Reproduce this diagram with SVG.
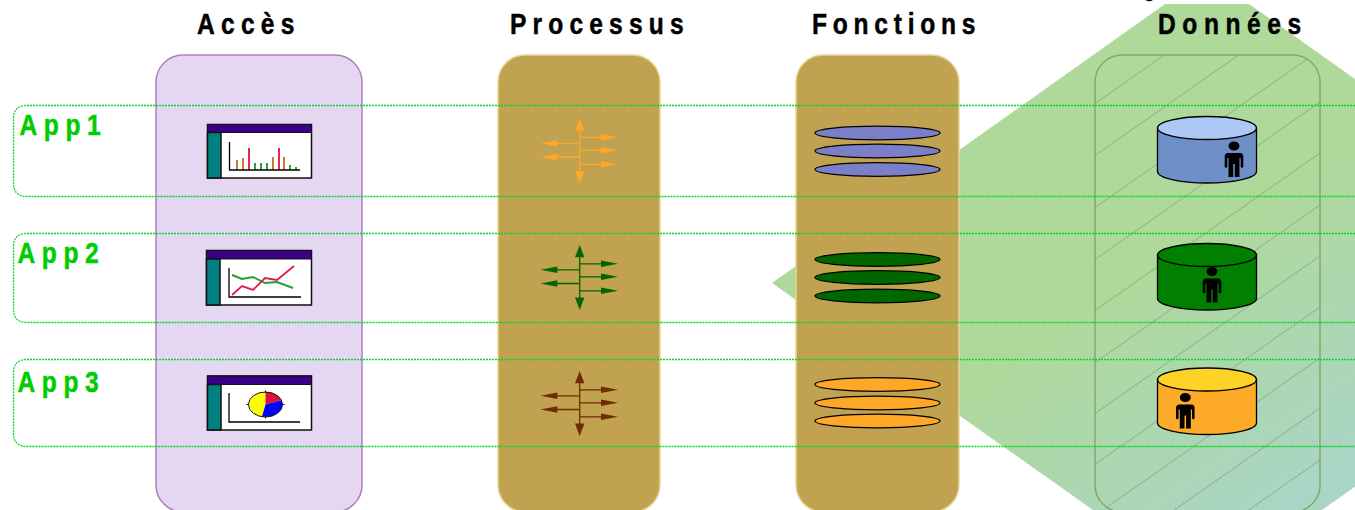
<svg xmlns="http://www.w3.org/2000/svg" xmlns:xlink="http://www.w3.org/1999/xlink" width="1355" height="510" viewBox="0 0 1355 510">
<style>
text{font-family:"Liberation Sans",Arial,sans-serif;font-weight:700;font-size:30px;letter-spacing:8px;stroke-width:.5px}
.title{fill:#000;stroke:#000}
.app{fill:#00CC00;stroke:#00CC00}
.band{fill:none;stroke:#00DC20;stroke-width:1.3;stroke-dasharray:2 1}
.panel{stroke-width:1.5}
.brown{fill:#C1A251;stroke:#E8D89A}
.win{fill:#fff;stroke:#111;stroke-width:1.5}
.bar{fill:#3A0088;stroke:#111;stroke-width:1}
.side{fill:#008080;stroke:#111;stroke-width:1.5}
.axis{fill:none;stroke:#000;stroke-width:1.3}
.disk{stroke:#000;stroke-width:1.2}
.cyl{stroke:#000;stroke-width:1.3}
.hatch{stroke:#7F9D72;stroke-width:.7}
.or{stroke:#C07830;stroke-width:1.9}
.re{stroke:#E02050;stroke-width:1.9}
.gr{stroke:#20A030;stroke-width:1.9}
</style>
<defs>
<linearGradient id="bg" gradientUnits="userSpaceOnUse" x1="980" y1="370" x2="1130" y2="600">
<stop offset="0" stop-color="#AFD99A"/><stop offset="1" stop-color="#A9D5C4"/>
</linearGradient>
<clipPath id="dclip"><rect x="1095" y="55" width="225" height="457" rx="27"/></clipPath>
<g id="arrows" fill="currentColor" stroke="none">
<path d="M579.7 125V178M580 137.3H605M580 150.3H605M580 164.3H605M579 143.3H553M579 157H553" stroke="currentColor" fill="none" stroke-width="1.3"/>
<path d="M579.7 118.5L584.4 130.7H575ZM579.7 183.5L584.4 171H575Z"/>
<path d="M618 137.3L601 134V140.6ZM618 150.3L601 147V153.6ZM618 164.3L601 161V167.6Z"/>
<path d="M540.5 143.3L557.3 140V146.6ZM540.5 157L557.3 153.7V160.3Z"/>
</g>
<path id="person" fill="#000" d="M-5.5 0a5.5 4.6 0 1 0 11 0a5.5 4.6 0 1 0-11 0ZM-6 7H6Q9.3 7 9.3 10.500V20.500a1.300 1.300 0 0 1-2.600 0V12H5.500V31H.8V18H-.8V31H-5.500V12H-6.700V20.500a1.300 1.300 0 0 1-2.600 0V10.500Q-9.300 7-6 7Z"/>
</defs>

<g id="backdrop">
<polygon points="772,283 1165,4 1249,4 1410,118 1410,448 1322,510 1093,510" fill="url(#bg)"/>
<path d="M1145.500 0Q1149 2.500 1153 0Z" fill="#000"/>
</g>

<g id="col-acces">
<rect class="panel" x="156" y="55" width="206" height="457" rx="27" fill="#E5D7F1" stroke="#AE80B8"/>
<text class="title" style="letter-spacing:7.600px" transform="translate(197 34) scale(.82 1)">Accès</text>
</g>
<g id="col-processus">
<rect class="panel brown" x="498" y="55" width="162" height="457" rx="27"/>
<text class="title" style="letter-spacing:7.500px" transform="translate(510 34) scale(.82 1)">Processus</text>
</g>
<g id="col-fonctions">
<rect class="panel brown" x="796" y="55" width="163" height="457" rx="27"/>
<text class="title" style="letter-spacing:7px" transform="translate(812 34) scale(.82 1)">Fonctions</text>
</g>
<g id="col-donnees">
<g clip-path="url(#dclip)" class="hatch">
<path d="M1320 -54L1095 103.500M1320 -2L1095 155.500M1320 50L1095 207.500M1320 102L1095 259.500M1320 153L1095 310.500M1320 205L1095 362.500M1320 256L1095 413.500M1320 307L1095 464.500M1320 358L1095 515.500M1320 408L1095 565.500M1320 460L1095 617.500"/>
</g>
<rect class="panel" x="1095" y="55" width="225" height="457" rx="27" fill="none" stroke="#86A86A"/>
<text class="title" transform="translate(1158 34) scale(.82 1)">Données</text>
</g>

<g id="connectors">
<path id="band-app1" class="band" d="M1355 105.500H27Q13.500 105.500 13.500 119V183Q13.500 196.500 27 196.500H1355"/>
<path id="band-app2" class="band" d="M1355 233.500H27Q13.500 233.500 13.500 247V309Q13.500 322.500 27 322.500H1355"/>
<path id="band-app3" class="band" d="M1355 359.500H27Q13.500 359.500 13.500 373V433Q13.500 446.500 27 446.500H1355"/>
</g>

<g id="label-app1"><text class="app" transform="translate(19.500 135) scale(.82 1)">App1</text></g>
<g id="label-app2"><text class="app" transform="translate(17.500 263) scale(.82 1)">App2</text></g>
<g id="label-app3"><text class="app" transform="translate(17.500 392) scale(.82 1)">App3</text></g>

<g id="win-bars">
<rect class="win" x="207.500" y="124.500" width="104" height="53.500"/>
<rect class="bar" x="207.500" y="124.500" width="104" height="8"/>
<rect class="side" x="207.500" y="132.500" width="13.500" height="45.500"/>
<path class="or" d="M237 170V160M243 170V158M273 170V157M284 170V157"/>
<path class="re" d="M249 170V148M279 170V148"/>
<path class="gr" d="M255 170V163M261 170V163M267 170V163M290 170V165M296 170V167"/>
<path class="axis" d="M229.500 142V170H300"/>
</g>
<g id="win-lines">
<rect class="win" x="206.500" y="250.500" width="105" height="54.500"/>
<rect class="bar" x="206.500" y="250.500" width="105" height="8.500"/>
<rect class="side" x="206.500" y="259" width="13.500" height="46"/>
<path class="axis" d="M229 268V297H301"/>
<polyline fill="none" class="gr" points="232,275 242,279 253,277 265,283 277,282 293,288"/>
<polyline fill="none" class="re" points="232,295 242,286 253,290 265,278 277,280 294,266"/>
</g>
<g id="win-pie">
<rect class="win" x="207.500" y="376" width="104" height="54"/>
<rect class="bar" x="207.500" y="376" width="104" height="8.500"/>
<rect class="side" x="207.500" y="384.500" width="13.500" height="45.500"/>
<path class="axis" d="M229 393V422H300"/>
<path fill="#FFFF00" d="M265.500 404.500L262 416.600A17 12.500 0 0 1 265.500 392Z"/>
<path fill="#E0103C" d="M265.500 404.500V392A17 12.500 0 0 1 281.400 400.200Z"/>
<path fill="#0000FF" d="M265.500 404.500L281.400 400.200A17 12.500 0 0 1 262 416.600Z"/>
<ellipse cx="265.500" cy="404.500" rx="17" ry="12.500" fill="none" stroke="#111" stroke-width="1"/>
<path d="M265.500 390.500V393M265.500 416V418.500M246.500 404.500H249M282 404.500H284.500" stroke="#111" stroke-width="1"/>
</g>

<g id="flow-1" color="#FFA726"><use xlink:href="#arrows"/></g>
<g id="flow-2" color="#006600"><use xlink:href="#arrows" y="126.500"/></g>
<g id="flow-3" color="#6E2C00"><use xlink:href="#arrows" y="252.500"/></g>

<g id="stack-1" class="disk" fill="#7B7FC7">
<ellipse cx="877.500" cy="133" rx="62.500" ry="6.800"/><ellipse cx="877.500" cy="151" rx="62.500" ry="6.800"/><ellipse cx="877.500" cy="169.500" rx="62.500" ry="6.800"/>
</g>
<g id="stack-2" class="disk" fill="#006600">
<ellipse cx="877.500" cy="259.500" rx="62.500" ry="6.800"/><ellipse cx="877.500" cy="277.500" rx="62.500" ry="6.800"/><ellipse cx="877.500" cy="296" rx="62.500" ry="6.800"/>
</g>
<g id="stack-3" class="disk" fill="#FFA726">
<ellipse cx="877.500" cy="384.500" rx="62.500" ry="6.800"/><ellipse cx="877.500" cy="403" rx="62.500" ry="6.800"/><ellipse cx="877.500" cy="421" rx="62.500" ry="6.800"/>
</g>

<g id="db-1">
<path class="cyl" fill="#6F8FC8" d="M1157.500 128V171.500A49.500 11.500 0 0 0 1256.500 171.500V128Z"/>
<ellipse class="cyl" cx="1207" cy="128" rx="49.500" ry="11.500" fill="#ADC8F5"/>
<use xlink:href="#person" x="1234" y="146"/>
</g>
<g id="db-2">
<path class="cyl" fill="#007F00" d="M1157.500 255V298.500A49.500 11.500 0 0 0 1256.500 298.500V255Z"/>
<ellipse class="cyl" cx="1207" cy="255" rx="49.500" ry="11.500" fill="#007F00"/>
<use xlink:href="#person" x="1212" y="271.500"/>
</g>
<g id="db-3">
<path class="cyl" fill="#FFAB2A" d="M1157.500 379.500V423A49.500 11.500 0 0 0 1256.500 423V379.500Z"/>
<ellipse class="cyl" cx="1207" cy="379.500" rx="49.500" ry="11.500" fill="#FDD327"/>
<use xlink:href="#person" x="1185.300" y="397.500"/>
</g>
</svg>
